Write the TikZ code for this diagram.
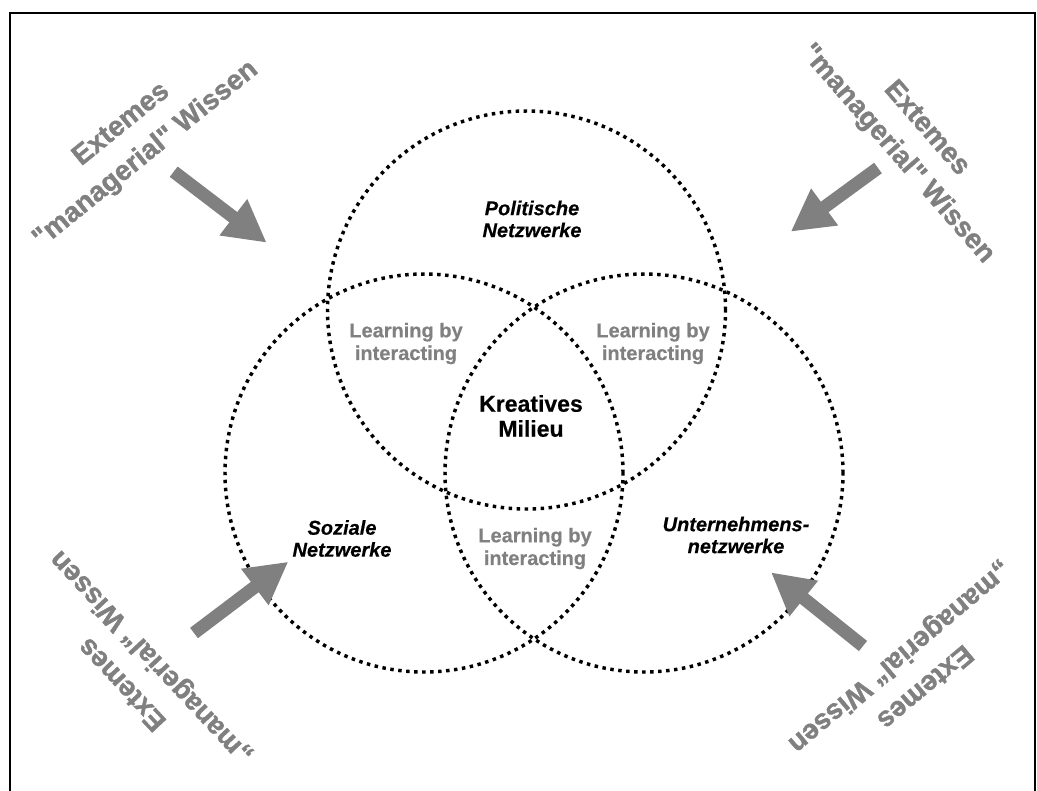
\documentclass[tikz,border=0pt]{standalone}
\usepackage{fontspec}
\setmainfont{Liberation Sans}[
  BoldFont={Liberation Sans Bold},
  BoldItalicFont={Liberation Sans Bold Italic},
  BoldFeatures={FakeBold=0.4},
  BoldItalicFeatures={FakeBold=0.4}]
\newfontfamily\heavyfont{Liberation Sans Bold}[FakeBold=1.2]
\usetikzlibrary{arrows.meta}

\definecolor{labelgray}{RGB}{128,128,128}

\begin{document}
\begin{tikzpicture}[x=0.75pt,y=-0.75pt,
  net/.style={circle, draw=black, line width=2.6pt,
    dash pattern=on 2.6pt off 3.4pt, minimum size=298.5pt, inner sep=0pt},
  netname/.style={align=center, font=\bfseries\itshape\fontsize{15}{16.5}\selectfont},
  learnlabel/.style={align=center, text=labelgray,
    font=\bfseries\fontsize{15}{17}\selectfont},
  corelabel/.style={align=center, font=\bfseries\fontsize{17.25}{18.75}\selectfont},
  extlabel/.style={align=center, text=labelgray,
    font=\heavyfont\fontsize{21}{29}\selectfont},
  inflow/.style={draw=labelgray, line width=9.75pt,
    -{Triangle[length=31.5pt,width=32pt,fill=labelgray]}}
]
\useasboundingbox (0,0) rectangle (1037,790);
\clip (0,0) rectangle (1037,790);

% frame, open towards the bottom edge
\draw[line width=1.5pt] (9.5,12.5) rectangle (1034.5,830);

% the three networks
\node[net] (pol) at (526.5,310) {};
\node[net] (soz) at (424,473) {};
\node[net] (unt) at (644,473) {};

% network names
\node[netname] (polname) at (532,219) {Politische\\Netzwerke};
\node[netname] (sozname) at (342,538.5) {Soziale\\Netzwerke};
\node[netname] (untname) at (736,535) {Unternehmens-\\netzwerke};

% overlaps
\node[learnlabel] (lpl) at (406,343.5) {Learning by\\interacting};
\node[learnlabel] (lpr) at (653,343.5) {Learning by\\interacting};
\node[learnlabel] (lsu) at (535,548.5) {Learning by\\interacting};
\node[corelabel] (core) at (531,416) {Kreatives\\Milieu};

% external knowledge labels
\node[extlabel, rotate=39] (extTL) at (134,140) {Extemes\\"managerial" Wissen};
\node[extlabel, rotate=-49] (extTR) at (911.5,141.6) {Extemes\\"managerial" Wissen};
\node[extlabel, rotate=133] (extBL) at (137.5,670) {Extemes\\„managerial“ Wissen};
\node[extlabel, rotate=220] (extBR) at (911.5,671) {Extemes\\„managerial“ Wissen};

% inflow arrows
\coordinate (tlTail) at (173.7,171.7);
\coordinate (tlTip) at (266.7,242.7);
\coordinate (trTail) at (878,168);
\coordinate (trTip) at (790.7,231.7);
\coordinate (blTail) at (194,633);
\coordinate (blTip) at (288.3,561.7);
\coordinate (brTail) at (863,646);
\coordinate (brTip) at (771,572.3);
\draw[inflow] (tlTail) -- (tlTip);
\draw[inflow] (trTail) -- (trTip);
\draw[inflow] (blTail) -- (blTip);
\draw[inflow] (brTail) -- (brTip);
\end{tikzpicture}
\end{document}
